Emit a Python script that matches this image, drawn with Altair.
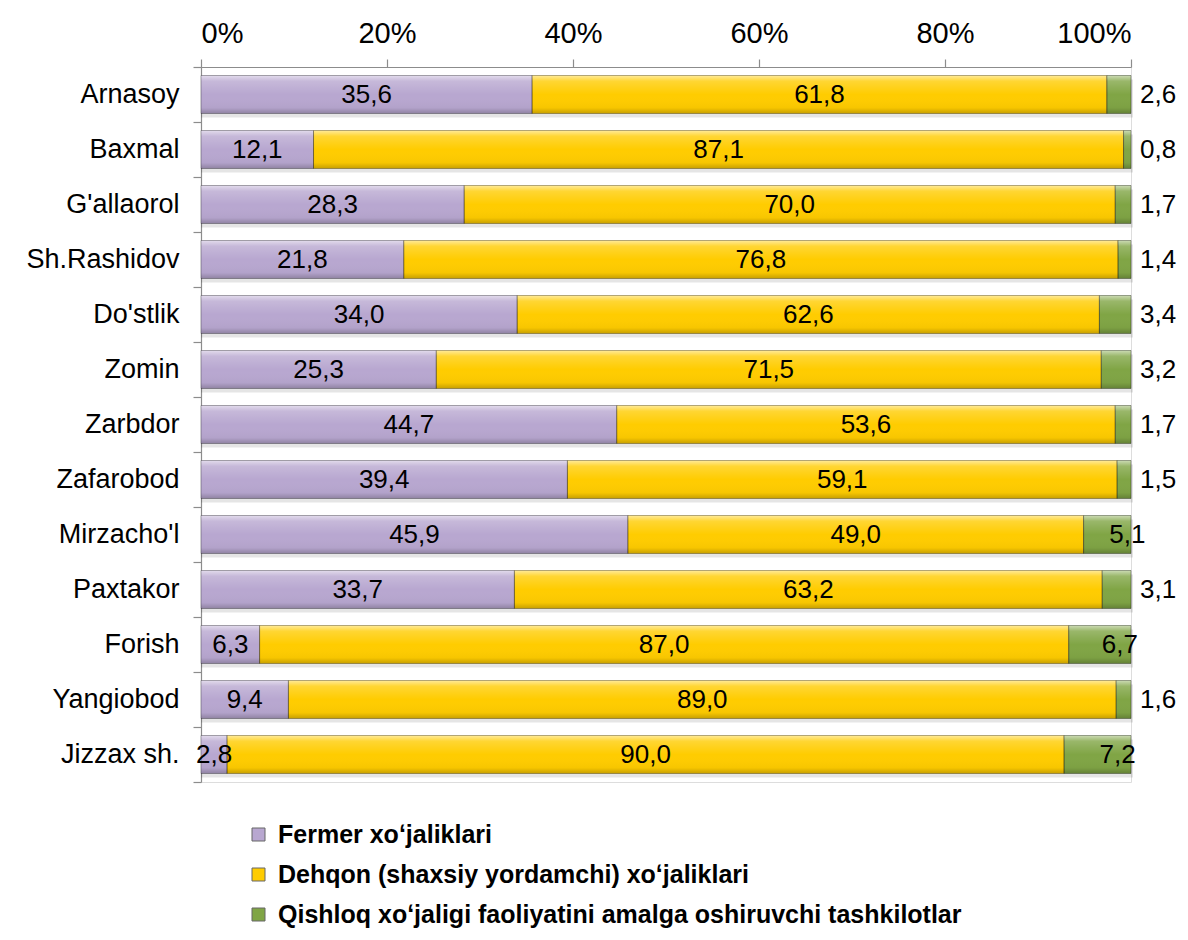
import altair as alt
import pandas as pd

categories = ["Arnasoy", "Baxmal", "G'allaorol", "Sh.Rashidov", "Do'stlik", "Zomin",
              "Zarbdor", "Zafarobod", "Mirzacho'l", "Paxtakor", "Forish", "Yangiobod", "Jizzax sh."]
fermer = [35.6, 12.1, 28.3, 21.8, 34.0, 25.3, 44.7, 39.4, 45.9, 33.7, 6.3, 9.4, 2.8]
dehqon = [61.8, 87.1, 70.0, 76.8, 62.6, 71.5, 53.6, 59.1, 49.0, 63.2, 87.0, 89.0, 90.0]
qishloq = [2.6, 0.8, 1.7, 1.4, 3.4, 3.2, 1.7, 1.5, 5.1, 3.1, 6.7, 1.6, 7.2]
series = ["Fermer xoʻjaliklari",
          "Dehqon (shaxsiy yordamchi) xoʻjaliklari",
          "Qishloq xoʻjaligi faoliyatini amalga oshiruvchi tashkilotlar"]
colors = ["#B8A7D0", "#FFCC00", "#80A545"]
x_ticks = [0, 0.2, 0.4, 0.6, 0.8, 1.0]

rows = []
for i, cat in enumerate(categories):
    vals = [fermer[i], dehqon[i], qishloq[i]]
    total = sum(vals)
    cum = 0.0
    for k, v in enumerate(vals):
        start = cum / total
        cum += v
        end = cum / total
        rows.append({
            "cat": cat, "series": series[k], "order": k, "value": v,
            "start": start, "end": end, "mid": (start + end) / 2,
            "label": f"{v:.1f}".replace(".", ","),
            "small": v < 5,
        })
df = pd.DataFrame(rows)

FONT = "Liberation Sans"
AXIS_GRAY = "#8C8C8C"

y_enc = alt.Y("cat:N", sort=categories,
              scale=alt.Scale(paddingInner=0, paddingOuter=0),
              axis=alt.Axis(title=None, tickBand="extent", labelFontSize=27, labelFont=FONT,
                            labelColor="black", domainColor=AXIS_GRAY, tickColor=AXIS_GRAY,
                            tickSize=8, labelPadding=14, domainWidth=1.2, tickWidth=1.2))
x_enc = alt.X("start:Q", scale=alt.Scale(domain=[0, 1], nice=False),
              axis=alt.Axis(orient="top", values=x_ticks, format=".0%", title=None, grid=False,
                            labelFontSize=29, labelFont=FONT, labelColor="black",
                            domainColor=AXIS_GRAY, tickColor=AXIS_GRAY, tickSize=8,
                            labelPadding=11, domainWidth=1.2, tickWidth=1.2))

base = alt.Chart(df)
ycat = alt.Y("cat:N", sort=categories)

shadow = base.transform_filter("datum.order == 2").mark_bar(
    size=38, yOffset=4, xOffset=2, color="rgba(0,0,0,0.10)"
).encode(y=ycat, x=alt.X("end:Q"), x2=alt.datum(0))

bars = base.mark_bar(size=38).encode(
    y=y_enc, x=x_enc, x2="end:Q",
    color=alt.Color("series:N", sort=series,
                    scale=alt.Scale(domain=series, range=colors),
                    legend=alt.Legend(orient="none", legendX=45, legendY=755,
                                      direction="vertical", title=None,
                                      labelFontSize=25, labelFontWeight="bold", labelFont=FONT,
                                      labelColor="black", symbolType="square", symbolSize=169,
                                      symbolStrokeColor="#666666", symbolStrokeWidth=1,
                                      rowPadding=14, labelOffset=7, padding=0, labelLimit=900)),
)

gradient = alt.Gradient(
    gradient="linear", x1=0, y1=0, x2=0, y2=1,
    stops=[
        alt.GradientStop(offset=0, color="rgba(255,255,255,0.6)"),
        alt.GradientStop(offset=0.15, color="rgba(255,255,255,0.2)"),
        alt.GradientStop(offset=0.5, color="rgba(255,255,255,0)"),
        alt.GradientStop(offset=0.85, color="rgba(0,0,0,0.03)"),
        alt.GradientStop(offset=1, color="rgba(0,0,0,0.22)"),
    ],
)
overlay = base.mark_bar(size=38, fill=gradient, stroke="rgba(0,0,0,0.3)", strokeWidth=1).encode(
    y=ycat, x="start:Q", x2="end:Q"
)

main_labels = base.transform_filter("datum.order < 2").mark_text(
    fontSize=26, font=FONT, color="black", align="center", baseline="middle"
).encode(y=ycat, x="mid:Q", text="label:N")

green_in = base.transform_filter("datum.order == 2 && !datum.small").mark_text(
    fontSize=26, font=FONT, color="black", align="center", baseline="middle", dx=20
).encode(y=ycat, x="mid:Q", text="label:N")

green_out = base.transform_filter("datum.order == 2 && datum.small").mark_text(
    fontSize=26, font=FONT, color="black", align="left", baseline="middle", dx=9
).encode(y=ycat, x="end:Q", text="label:N")

chart = alt.layer(shadow, bars, overlay, main_labels, green_in, green_out).properties(
    width=930, height=715,
    autosize=alt.AutoSizeParams(type="none"),
    padding={"left": 193, "top": 59, "right": 49, "bottom": 150},
).configure_view(stroke=None).configure(background="white")

chart.save("out.html", embed_options={"renderer": "svg", "actions": False})
